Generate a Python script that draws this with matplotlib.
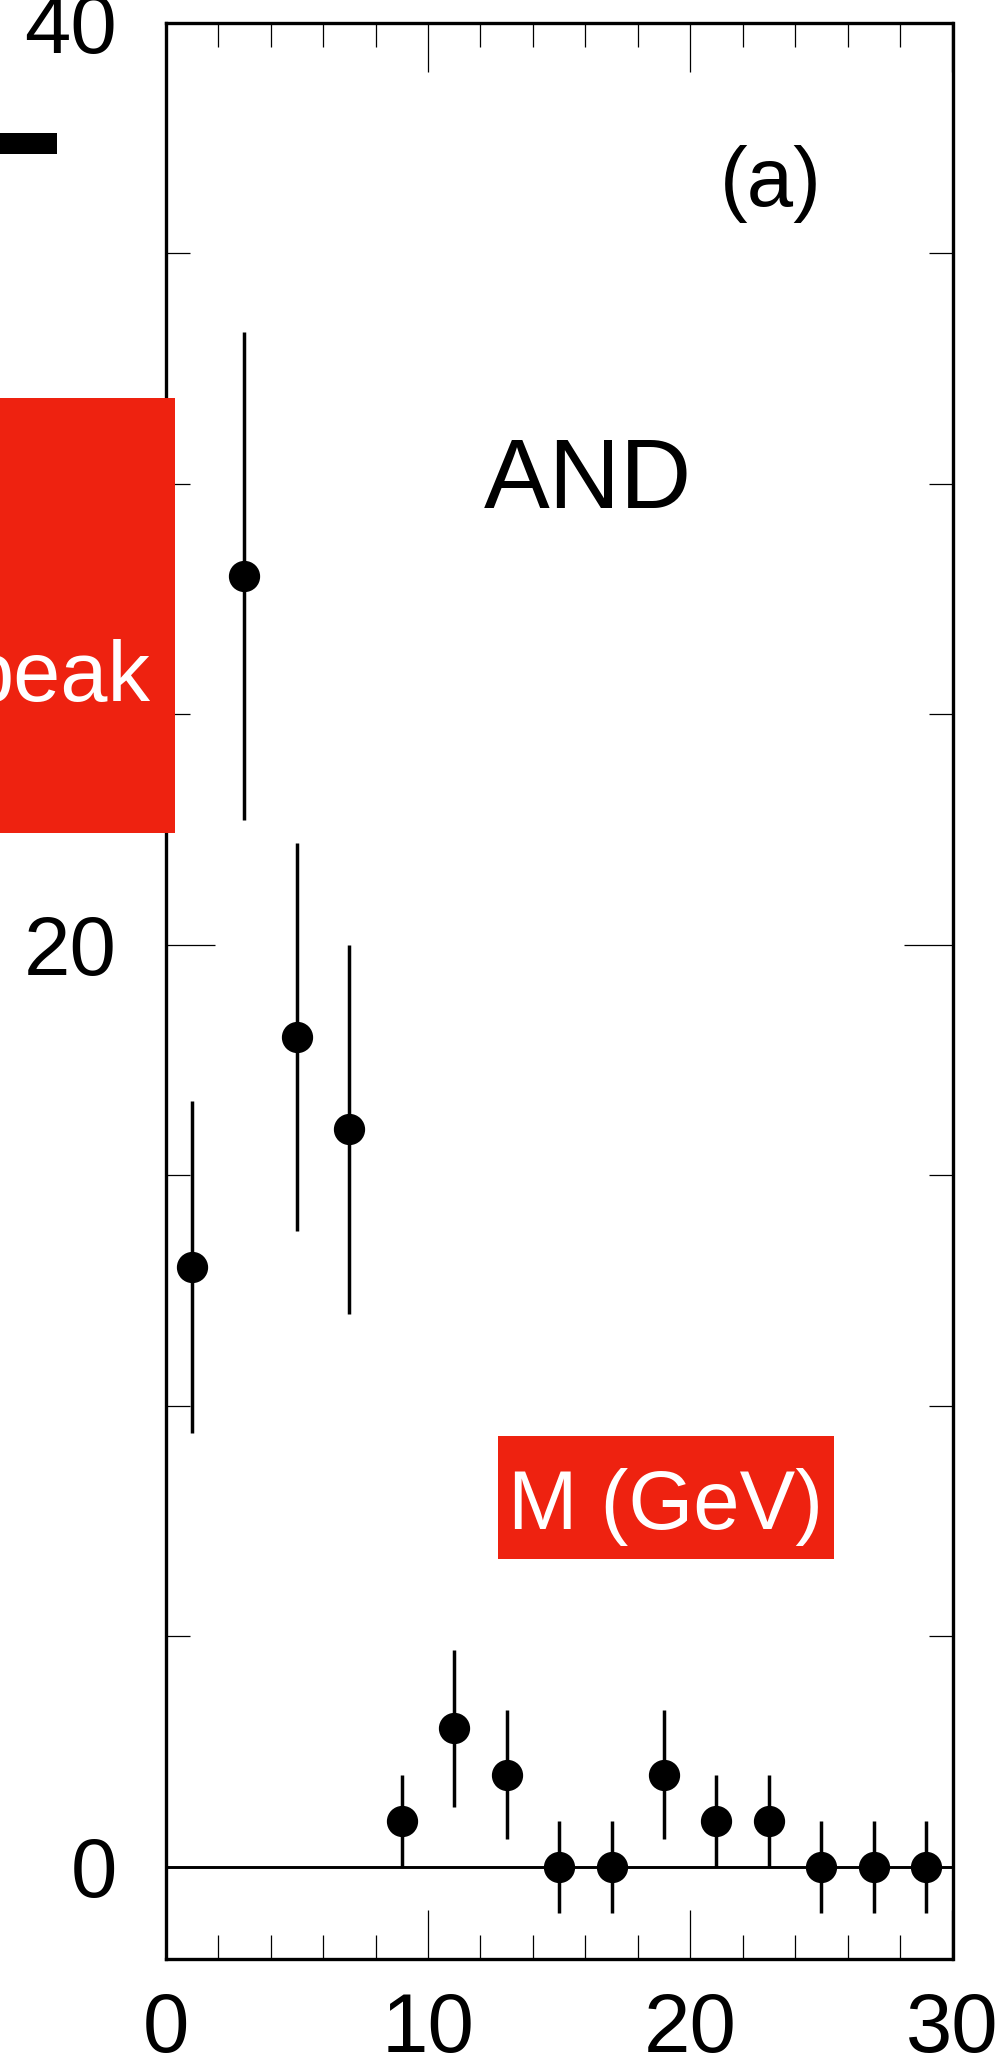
import numpy as np
import matplotlib
matplotlib.use("Agg")
import matplotlib.pyplot as plt
from matplotlib.patches import Rectangle
from matplotlib.ticker import MultipleLocator

# Event counts per 2 GeV mass bin
mass_centers = [1, 3, 5, 7, 9, 11, 13, 15, 17, 19, 21, 23, 25, 27, 29]
counts = [13, 28, 18, 16, 1, 3, 2, 0, 0, 2, 1, 1, 0, 0, 0]
count_errors = [3.6, 5.3, 4.2, 4.0, 1.0, 1.7, 1.4, 1.0, 1.0, 1.4, 1.0, 1.0, 1.0, 1.0, 1.0]

x_major_ticks = [0, 10, 20, 30]
y_major_ticks = [0, 20, 40]
x_limits = (0, 30)
y_limits = (-2, 40)

W, H = 1000, 2066
RED = "#ee2210"

plt.rcParams["font.family"] = ["Liberation Sans", "DejaVu Sans"]

fig = plt.figure(figsize=(W / 100, H / 100), dpi=100)
fig.patch.set_facecolor("white")


def fx(px):
    return px / W


def fy(py):
    return 1 - py / H


left, right, top, bottom = 165.7, 952.5, 22.7, 1959.0
ax = fig.add_axes([fx(left), fy(bottom), fx(right - left), (bottom - top) / H])

ax.set_xlim(*x_limits)
ax.set_ylim(*y_limits)

ax.axhline(0, color="black", lw=2.1, zorder=2)
ax.errorbar(mass_centers, counts, yerr=count_errors, fmt="o", color="black",
            ms=21.5, elinewidth=2.5, capsize=0, zorder=3)

ax.xaxis.set_major_locator(MultipleLocator(10))
ax.xaxis.set_minor_locator(MultipleLocator(2))
ax.yaxis.set_major_locator(MultipleLocator(20))
ax.yaxis.set_minor_locator(MultipleLocator(5))
ax.set_xticks(x_major_ticks)
ax.set_yticks(y_major_ticks)

for s in ax.spines.values():
    s.set_linewidth(2.4)

ax.tick_params(which="both", direction="in", top=True, right=True, width=0.9,
               color="black")
ax.tick_params(which="major", length=35)
ax.tick_params(which="minor", length=17.5)
ax.tick_params(axis="y", which="major", labelsize=60, pad=35)
ax.tick_params(axis="x", which="major", labelsize=60, pad=23)

# Annotations inside the frame
fig.text(fx(588), fy(472), "AND", fontsize=71, ha="center", va="center_baseline",
         color="black")
fig.text(fx(771), fy(206), "(a)", fontsize=60, ha="center", va="baseline",
         color="black")

# Red label boxes
fig.patches.append(Rectangle((fx(498), fy(1559)), fx(834 - 498), (1559 - 1436) / H,
                             transform=fig.transFigure, facecolor=RED,
                             edgecolor="none", zorder=5))
fig.text(fx(666), fy(1529), "M (GeV)", fontsize=60, ha="center", va="baseline",
         color="white", zorder=6)

fig.patches.append(Rectangle((0, fy(833)), fx(175), (833 - 398) / H,
                             transform=fig.transFigure, facecolor=RED,
                             edgecolor="none", zorder=5))
fig.text(fx(151), fy(701), "peak", fontsize=61, ha="right", va="baseline",
         color="white", zorder=6)

# Bar fragment at the left edge
fig.patches.append(Rectangle((0, fy(154)), fx(57), (154 - 133) / H,
                             transform=fig.transFigure, facecolor="black",
                             edgecolor="none", zorder=5))

fig.savefig("out.png", dpi=100, facecolor="white")
